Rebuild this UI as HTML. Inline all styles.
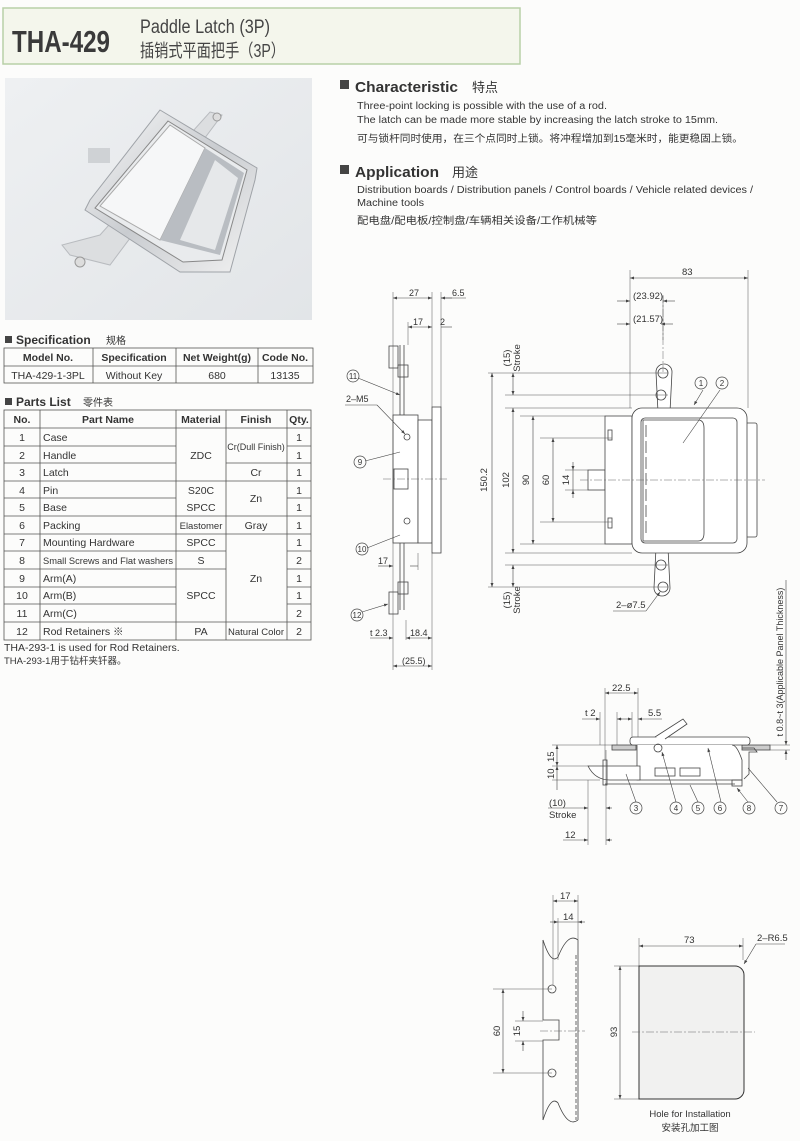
<!DOCTYPE html>
<html><head><meta charset="utf-8"><style>
html,body{margin:0;padding:0;background:#fff}
svg{display:block}
text{font-family:"Liberation Sans","Noto Sans CJK SC",sans-serif;fill:#333}
.d{stroke:#444;stroke-width:0.8;fill:none}
.t{stroke:#555;stroke-width:0.5;fill:none}
.c{stroke:#666;stroke-width:0.5;fill:none;stroke-dasharray:8 2 2 2}
.s{font-size:10px}
</style></head><body>
<svg width="800" height="1141" viewBox="0 0 800 1141" xmlns="http://www.w3.org/2000/svg">
<defs>
<marker id="a" viewBox="0 0 8 6" refX="8" refY="3" markerWidth="7" markerHeight="5" orient="auto-start-reverse"><path d="M0,0L8,3L0,6z" fill="#444"/></marker>
<linearGradient id="bg" x1="0" y1="0" x2="1" y2="1"><stop offset="0" stop-color="#eef0f2"/><stop offset="1" stop-color="#e2e5e8"/></linearGradient>
<linearGradient id="met" x1="0" y1="0" x2="1" y2="1"><stop offset="0" stop-color="#fafafa"/><stop offset="0.5" stop-color="#c9ccd0"/><stop offset="1" stop-color="#f2f2f2"/></linearGradient>
</defs>
<rect width="800" height="1141" fill="#fcfcfb"/>
<!-- header -->
<rect x="3" y="8" width="517" height="56" fill="#f4f6ec" stroke="#b8d0a8" stroke-width="1.5"/>
<text x="12" y="52" textLength="98" lengthAdjust="spacingAndGlyphs" style="font-size:31px;font-weight:bold;fill:#3a3a3a">THA-429</text>
<text x="140" y="33" textLength="130" lengthAdjust="spacingAndGlyphs" style="font-size:19px;fill:#444">Paddle Latch (3P)</text>
<text x="140" y="57" textLength="145" lengthAdjust="spacingAndGlyphs" style="font-size:18px;fill:#444">插销式平面把手（3P）</text>

<!-- photo -->
<rect x="5" y="78" width="307" height="242" fill="url(#bg)"/>
<polygon points="210,112 222,115 110,265 70,255 62,245 100,235" fill="#dcdee0" stroke="#b8bbbf"/>
<polygon points="88,148 110,148 110,163 88,163" fill="#cfd2d5"/>
<polygon points="160,110 257,168 255,180 230,272 180,272 85,210 90,200" fill="url(#met)" stroke="#9fa3a8"/>
<polygon points="168,121 247,170 222,260 183,262 95,208" fill="#e9ebed" stroke="#888"/>
<polygon points="170,125 205,148 160,240 100,206" fill="#f6f7f8" stroke="#aaa"/>
<polygon points="205,148 244,173 220,255 160,240" fill="#b9bdc2"/>
<polygon points="215,160 238,178 215,250 180,240" fill="#e6e8ea"/>
<circle cx="80" cy="262" r="5" fill="#ddd" stroke="#999"/>
<circle cx="217" cy="117" r="4" fill="#ddd" stroke="#999"/>

<!-- right texts -->
<rect x="340" y="80" width="9" height="9" fill="#444"/>
<text x="355" y="92" textLength="103" lengthAdjust="spacingAndGlyphs" style="font-size:15px;font-weight:bold">Characteristic</text>
<text x="472" y="92" style="font-size:13px">特点</text>
<text x="357" y="109" class="s" textLength="250" lengthAdjust="spacingAndGlyphs">Three-point locking is possible with the use of a rod.</text>
<text x="357" y="123" class="s" textLength="361" lengthAdjust="spacingAndGlyphs">The latch can be made more stable by increasing the latch stroke to 15mm.</text>
<text x="357" y="142" class="s" textLength="386" lengthAdjust="spacingAndGlyphs">可与锁杆同时使用，在三个点同时上锁。将冲程增加到15毫米时，能更稳固上锁。</text>
<rect x="340" y="165" width="9" height="9" fill="#444"/>
<text x="355" y="177" textLength="84" lengthAdjust="spacingAndGlyphs" style="font-size:15px;font-weight:bold">Application</text>
<text x="452" y="177" style="font-size:13px">用途</text>
<text x="357" y="193" class="s" textLength="396" lengthAdjust="spacingAndGlyphs">Distribution boards / Distribution panels / Control boards / Vehicle related devices /</text>
<text x="357" y="206" class="s" textLength="67" lengthAdjust="spacingAndGlyphs">Machine tools</text>
<text x="357" y="224" class="s" textLength="240" lengthAdjust="spacingAndGlyphs">配电盘/配电板/控制盘/车辆相关设备/工作机械等</text>

<!-- Spec table -->
<rect x="5" y="336" width="7" height="7" fill="#444"/>
<text x="16" y="344" style="font-size:12px;font-weight:bold">Specification</text>
<text x="106" y="344" style="font-size:10px">规格</text>
<g class="d" style="stroke:#555">
<rect x="4" y="348" width="309" height="35"/>
<line x1="4" y1="366" x2="313" y2="366"/>
<line x1="93" y1="348" x2="93" y2="383"/><line x1="176" y1="348" x2="176" y2="383"/><line x1="258" y1="348" x2="258" y2="383"/>
</g>
<g style="font-size:10.5px" text-anchor="middle">
<text x="48" y="361" font-weight="bold">Model No.</text><text x="134" y="361" font-weight="bold">Specification</text><text x="217" y="361" font-weight="bold">Net Weight(g)</text><text x="285" y="361" font-weight="bold">Code No.</text>
<text x="48" y="379">THA-429-1-3PL</text><text x="134" y="379">Without Key</text><text x="217" y="379">680</text><text x="285" y="379">13135</text>
</g>

<!-- Parts table -->
<rect x="5" y="398" width="7" height="7" fill="#444"/>
<text x="16" y="406" style="font-size:12px;font-weight:bold">Parts List</text>
<text x="83" y="406" style="font-size:10px">零件表</text>
<g class="d" style="stroke:#555">
<rect x="4" y="410" width="307" height="230"/>
<line x1="4" y1="428" x2="311" y2="428"/>
<line x1="40" y1="410" x2="40" y2="640"/><line x1="176" y1="410" x2="176" y2="640"/><line x1="226" y1="410" x2="226" y2="640"/><line x1="287" y1="410" x2="287" y2="640"/>
<line x1="4" y1="446" x2="176" y2="446"/><line x1="4" y1="463" x2="176" y2="463"/><line x1="4" y1="481" x2="311" y2="481"/><line x1="4" y1="498" x2="176" y2="498"/><line x1="4" y1="516" x2="311" y2="516"/><line x1="4" y1="534" x2="311" y2="534"/><line x1="4" y1="551" x2="226" y2="551"/><line x1="4" y1="569" x2="226" y2="569"/><line x1="4" y1="587" x2="176" y2="587"/><line x1="4" y1="604" x2="176" y2="604"/><line x1="4" y1="622" x2="311" y2="622"/>
<line x1="287" y1="446" x2="311" y2="446"/><line x1="226" y1="463" x2="311" y2="463"/><line x1="287" y1="498" x2="311" y2="498"/><line x1="287" y1="551" x2="311" y2="551"/><line x1="287" y1="569" x2="311" y2="569"/><line x1="287" y1="587" x2="311" y2="587"/><line x1="287" y1="604" x2="311" y2="604"/>
</g>
<g style="font-size:10.5px">
<g text-anchor="middle" font-weight="bold"><text x="22" y="423">No.</text><text x="108" y="423">Part Name</text><text x="201" y="423">Material</text><text x="256" y="423">Finish</text><text x="299" y="423">Qty.</text></g>
<g text-anchor="middle"><text x="22" y="441">1</text><text x="22" y="459">2</text><text x="22" y="476">3</text><text x="22" y="494">4</text><text x="22" y="511">5</text><text x="22" y="529">6</text><text x="22" y="546">7</text><text x="22" y="564">8</text><text x="22" y="582">9</text><text x="22" y="599">10</text><text x="22" y="617">11</text><text x="22" y="635">12</text>
<text x="299" y="441">1</text><text x="299" y="459">1</text><text x="299" y="476">1</text><text x="299" y="494">1</text><text x="299" y="511">1</text><text x="299" y="529">1</text><text x="299" y="546">1</text><text x="299" y="564">2</text><text x="299" y="582">1</text><text x="299" y="599">1</text><text x="299" y="617">2</text><text x="299" y="635">2</text>
<text x="201" y="459">ZDC</text><text x="201" y="494">S20C</text><text x="201" y="511">SPCC</text><text x="201" y="529" style="font-size:9.5px">Elastomer</text><text x="201" y="546">SPCC</text><text x="201" y="564">S</text><text x="201" y="599">SPCC</text><text x="201" y="635">PA</text>
<text x="256" y="450" style="font-size:9px">Cr(Dull Finish)</text><text x="256" y="476">Cr</text><text x="256" y="502">Zn</text><text x="256" y="529">Gray</text><text x="256" y="582">Zn</text><text x="256" y="635" style="font-size:9.5px">Natural Color</text></g>
<text x="43" y="441">Case</text><text x="43" y="459">Handle</text><text x="43" y="476">Latch</text><text x="43" y="494">Pin</text><text x="43" y="511">Base</text><text x="43" y="529">Packing</text><text x="43" y="546">Mounting Hardware</text><text x="43" y="564" style="font-size:9px" textLength="130" lengthAdjust="spacingAndGlyphs">Small Screws and Flat washers</text><text x="43" y="582">Arm(A)</text><text x="43" y="599">Arm(B)</text><text x="43" y="617">Arm(C)</text><text x="43" y="635">Rod Retainers ※</text>
</g>
<text x="4" y="651" style="font-size:10.5px">THA-293-1 is used for Rod Retainers.</text>
<text x="4" y="664" style="font-size:9.5px">THA-293-1用于钻杆夹钎器。</text>

<!-- SIDE VIEW -->
<g class="d">
<rect x="393" y="415" width="25" height="128" fill="#fff"/>
<rect x="418" y="420" width="14" height="123" fill="#fff"/>
<rect x="432" y="407" width="9" height="146" fill="#fff"/>
<line x1="400" y1="345" x2="400" y2="415"/><line x1="404" y1="345" x2="404" y2="415"/>
<line x1="400" y1="543" x2="400" y2="610"/><line x1="404" y1="543" x2="404" y2="610"/>
<rect x="389" y="346" width="9" height="22"/><rect x="398" y="365" width="10" height="12"/>
<rect x="389" y="592" width="9" height="22"/><rect x="398" y="582" width="10" height="12"/>
<rect x="394" y="469" width="14" height="20"/>
<circle cx="407" cy="437" r="3"/><circle cx="407" cy="521" r="3"/>
</g>
<line class="c" x1="383" y1="479" x2="448" y2="479"/>
<g class="t">
<line x1="393" y1="292" x2="393" y2="670"/><line x1="432" y1="292" x2="432" y2="407"/><line x1="441" y1="292" x2="441" y2="407"/>
<line x1="408" y1="322" x2="408" y2="345"/>
<line x1="432" y1="553" x2="432" y2="670"/><line x1="418" y1="553" x2="418" y2="570"/><line x1="406" y1="620" x2="406" y2="640"/>
</g>
<g class="d" style="stroke-width:0.6">
<line x1="393" y1="298" x2="432" y2="298" marker-start="url(#a)" marker-end="url(#a)"/>
<line x1="452" y1="298" x2="441" y2="298" marker-end="url(#a)"/><line x1="441" y1="298" x2="466" y2="298"/>
<line x1="408" y1="327" x2="432" y2="327" marker-start="url(#a)" marker-end="url(#a)"/>
<line x1="441" y1="327" x2="452" y2="327"/>
<line x1="378" y1="566" x2="393" y2="566" marker-end="url(#a)"/><line x1="418" y1="566" x2="410" y2="566"/>
<line x1="370" y1="638" x2="393" y2="638" marker-end="url(#a)"/><line x1="406" y1="638" x2="432" y2="638" marker-start="url(#a)" marker-end="url(#a)"/>
<line x1="393" y1="666" x2="432" y2="666" marker-start="url(#a)" marker-end="url(#a)"/>
<line x1="358" y1="378" x2="400" y2="395" marker-end="url(#a)"/>
<line x1="345" y1="405" x2="377" y2="405"/><line x1="377" y1="405" x2="405" y2="434" marker-end="url(#a)"/>
<line x1="365" y1="461" x2="400" y2="452"/><line x1="367" y1="548" x2="400" y2="535"/><line x1="362" y1="612" x2="388" y2="604" marker-end="url(#a)"/>
</g>
<g style="font-size:9px">
<text x="409" y="296">27</text><text x="452" y="296">6.5</text><text x="413" y="325">17</text><text x="440" y="325">2</text>
<text x="346" y="402">2–M5</text><text x="378" y="564">17</text><text x="370" y="636">t 2.3</text><text x="410" y="636">18.4</text><text x="402" y="664">(25.5)</text>
</g>
<g class="d" style="stroke-width:0.7"><circle cx="353" cy="376" r="6"/><circle cx="360" cy="462" r="6"/><circle cx="362" cy="549" r="6"/><circle cx="357" cy="615" r="6"/></g>
<g style="font-size:8px" text-anchor="middle"><text x="353" y="379">11</text><text x="360" y="465">9</text><text x="362" y="552">10</text><text x="357" y="618">12</text></g>

<!-- FRONT VIEW -->
<g class="d">
<path d="M656,372 a8,8 0 0 1 16,0 l-2,40 h-12 z" fill="#fff"/>
<path d="M654,588 a8,8 0 0 0 16,0 l-2,-40 h-12 z" fill="#fff"/>
<circle cx="663" cy="373" r="5"/><circle cx="661" cy="395" r="5"/><circle cx="661" cy="565" r="5"/><circle cx="663" cy="587" r="5"/>
<rect x="588" y="470" width="17" height="20" fill="#fff"/>
<rect x="605" y="416" width="27" height="128" fill="#fff"/>
<rect x="608" y="430" width="4" height="10"/><rect x="608" y="518" width="4" height="10"/>
<rect x="745" y="423" width="12" height="114" rx="2" fill="#fff"/>
<rect x="632" y="408" width="115" height="145" rx="10" fill="#fff"/>
<rect x="641" y="418" width="96" height="125" rx="4"/>
<path d="M643,420 h55 q6,0 6,8 v105 q0,8 -6,8 h-55 z" fill="#fff"/>
<line x1="646" y1="425" x2="646" y2="536" style="stroke-dasharray:12 4"/>
</g>
<line class="c" x1="580" y1="480" x2="765" y2="480"/>
<line class="c" x1="663" y1="295" x2="663" y2="372"/>
<g class="t">
<line x1="630" y1="270" x2="630" y2="408"/><line x1="748" y1="270" x2="748" y2="408"/>
<line x1="663" y1="296" x2="663" y2="340"/>
<line x1="488" y1="373" x2="668" y2="373"/><line x1="505" y1="395" x2="668" y2="395"/><line x1="505" y1="408" x2="632" y2="408"/>
<line x1="520" y1="416" x2="605" y2="416"/><line x1="540" y1="438" x2="612" y2="438"/><line x1="565" y1="470" x2="588" y2="470"/><line x1="565" y1="490" x2="588" y2="490"/>
<line x1="540" y1="522" x2="612" y2="522"/><line x1="520" y1="544" x2="605" y2="544"/><line x1="505" y1="553" x2="632" y2="553"/>
<line x1="505" y1="565" x2="668" y2="565"/><line x1="488" y1="587" x2="668" y2="587"/>
</g>
<g class="d" style="stroke-width:0.6">
<line x1="630" y1="278" x2="748" y2="278" marker-start="url(#a)" marker-end="url(#a)"/>
<line x1="617" y1="301" x2="630" y2="301" marker-end="url(#a)"/><line x1="675" y1="301" x2="663" y2="301" marker-end="url(#a)"/>
<line x1="617" y1="324" x2="630" y2="324" marker-end="url(#a)"/><line x1="673" y1="324" x2="661" y2="324" marker-end="url(#a)"/>
<line x1="492" y1="373" x2="492" y2="587" marker-start="url(#a)" marker-end="url(#a)"/>
<line x1="513" y1="373" x2="513" y2="395" marker-start="url(#a)" marker-end="url(#a)"/>
<line x1="513" y1="408" x2="513" y2="553" marker-start="url(#a)" marker-end="url(#a)"/>
<line x1="513" y1="565" x2="513" y2="587" marker-start="url(#a)" marker-end="url(#a)"/>
<line x1="533" y1="416" x2="533" y2="544" marker-start="url(#a)" marker-end="url(#a)"/>
<line x1="553" y1="438" x2="553" y2="522" marker-start="url(#a)" marker-end="url(#a)"/>
<line x1="573" y1="462" x2="573" y2="470" marker-end="url(#a)"/><line x1="573" y1="498" x2="573" y2="490" marker-end="url(#a)"/><line x1="573" y1="470" x2="573" y2="490"/>
<line x1="613" y1="611" x2="646" y2="611"/><line x1="646" y1="611" x2="660" y2="592" marker-end="url(#a)"/>
<line x1="703" y1="390" x2="694" y2="405" marker-end="url(#a)"/><line x1="720" y1="390" x2="683" y2="443"/>
</g>
<g style="font-size:9.5px">
<text x="682" y="275">83</text><text x="633" y="299">(23.92)</text><text x="633" y="322">(21.57)</text>
<text x="616" y="608">2–ø7.5</text>
</g>
<g style="font-size:9.5px" text-anchor="middle">
<text transform="translate(487,480) rotate(-90)">150.2</text>
<text transform="translate(509,480) rotate(-90)">102</text>
<text transform="translate(529,480) rotate(-90)">90</text>
<text transform="translate(549,480) rotate(-90)">60</text>
<text transform="translate(569,480) rotate(-90)">14</text>
<text transform="translate(510,358) rotate(-90)">(15)</text><text transform="translate(520,358) rotate(-90)">Stroke</text>
<text transform="translate(510,600) rotate(-90)">(15)</text><text transform="translate(520,600) rotate(-90)">Stroke</text>
<text transform="translate(783,662) rotate(-90)" style="font-size:9px">t 0.8~t 3(Applicable Panel Thickness)</text>
</g>
<g class="d" style="stroke-width:0.7"><circle cx="701" cy="383" r="6"/><circle cx="722" cy="383" r="6"/></g>
<g style="font-size:8px" text-anchor="middle"><text x="701" y="386">1</text><text x="722" y="386">2</text></g>

<!-- BOTTOM SIDE VIEW -->
<g class="d">
<rect x="612" y="745" width="24" height="5" fill="#ccc"/><rect x="742" y="745" width="28" height="5" fill="#ccc"/>
<rect x="630" y="737" width="120" height="8" rx="3" fill="#fff"/>
<path d="M655,737 l28,-18 l4,5 l-22,15" fill="#fff"/>
<path d="M637,745 v35 h105 v-20 q-5,-15 -10,-15" fill="#fff"/>
<path d="M588,766 h52 v14 h-30 q-15,0 -22,-14z" fill="#fff"/>
<rect x="603" y="760" width="4" height="25"/>
<line x1="605" y1="784" x2="735" y2="784"/>
<rect x="655" y="768" width="20" height="8"/><rect x="680" y="768" width="20" height="8"/>
<circle cx="658" cy="748" r="4"/>
<path d="M742,748 h12 l3,4 h-8 v22 l-5,5"/>
<rect x="732" y="780" width="10" height="6"/>
</g>
<line x1="606" y1="750" x2="606" y2="795" class="t"/>
<g class="t">
<line x1="605" y1="688" x2="605" y2="760"/><line x1="638" y1="688" x2="638" y2="737"/>
<line x1="600" y1="712" x2="600" y2="745"/><line x1="617" y1="712" x2="617" y2="745"/><line x1="632" y1="712" x2="632" y2="737"/>
<line x1="552" y1="745" x2="612" y2="745"/><line x1="552" y1="766" x2="590" y2="766"/><line x1="552" y1="780" x2="600" y2="780"/>
<line x1="588" y1="780" x2="588" y2="845"/><line x1="606" y1="795" x2="606" y2="845"/>
<line x1="770" y1="745" x2="790" y2="745"/><line x1="770" y1="750" x2="790" y2="750"/>
</g>
<g class="d" style="stroke-width:0.6">
<line x1="605" y1="693" x2="638" y2="693" marker-start="url(#a)" marker-end="url(#a)"/>
<line x1="582" y1="719" x2="600" y2="719" marker-end="url(#a)"/><line x1="622" y1="719" x2="617" y2="719" marker-end="url(#a)"/>
<line x1="620" y1="719" x2="632" y2="719" marker-end="url(#a)"/><line x1="662" y1="719" x2="638" y2="719" marker-end="url(#a)"/>
<line x1="557" y1="745" x2="557" y2="766" marker-start="url(#a)" marker-end="url(#a)"/>
<line x1="557" y1="766" x2="557" y2="780" marker-start="url(#a)"/>
<line x1="557" y1="780" x2="557" y2="790"/>
<line x1="548" y1="808" x2="588" y2="808" marker-end="url(#a)"/><line x1="612" y1="808" x2="606" y2="808" marker-end="url(#a)"/>
<line x1="563" y1="840" x2="588" y2="840" marker-end="url(#a)"/><line x1="612" y1="840" x2="606" y2="840" marker-end="url(#a)"/>
<line x1="786" y1="580" x2="786" y2="745" marker-end="url(#a)"/><line x1="786" y1="760" x2="786" y2="750" marker-end="url(#a)"/>
<line x1="636" y1="802" x2="626" y2="774"/><line x1="676" y1="802" x2="662" y2="752" marker-end="url(#a)"/><line x1="698" y1="802" x2="690" y2="785"/>
<line x1="721" y1="802" x2="708" y2="748" marker-end="url(#a)"/><line x1="748" y1="802" x2="737" y2="788" marker-end="url(#a)"/><line x1="777" y1="802" x2="748" y2="768"/>
</g>
<g style="font-size:9.5px">
<text x="612" y="691">22.5</text><text x="585" y="716">t 2</text><text x="648" y="716">5.5</text>
<text x="549" y="806">(10)</text><text x="549" y="818">Stroke</text><text x="565" y="838">12</text>
<text transform="translate(554,762) rotate(-90)">15</text><text transform="translate(554,779) rotate(-90)">10</text>
</g>
<g class="d" style="stroke-width:0.7"><circle cx="636" cy="808" r="6"/><circle cx="676" cy="808" r="6"/><circle cx="698" cy="808" r="6"/><circle cx="720" cy="808" r="6"/><circle cx="749" cy="808" r="6"/><circle cx="781" cy="808" r="6"/></g>
<g style="font-size:8px" text-anchor="middle"><text x="636" y="811">3</text><text x="676" y="811">4</text><text x="698" y="811">5</text><text x="720" y="811">6</text><text x="749" y="811">8</text><text x="781" y="811">7</text></g>

<!-- INSTALLATION -->
<g class="d">
<path d="M543,940 q8,25 15,17 q10,-25 20,-17"/>
<path d="M543,1120 q8,-25 15,-17 q10,25 20,17"/>
<path d="M543,940 V1020 H559 V1040 H543 V1120 M578,940 V1120"/>
<line x1="576" y1="955" x2="576" y2="1120" style="stroke-dasharray:4 2"/>
<circle cx="552" cy="989" r="4"/><circle cx="552" cy="1073" r="4"/>
</g>
<line class="c" x1="540" y1="1031" x2="585" y2="1031"/>
<g class="t">
<line x1="553" y1="895" x2="553" y2="985"/><line x1="578" y1="895" x2="578" y2="940"/><line x1="558" y1="918" x2="558" y2="960"/>
<line x1="493" y1="989" x2="552" y2="989"/><line x1="493" y1="1073" x2="552" y2="1073"/>
<line x1="515" y1="1021" x2="543" y2="1021"/><line x1="515" y1="1041" x2="543" y2="1041"/>
<line x1="639" y1="938" x2="639" y2="966"/><line x1="743" y1="938" x2="743" y2="960"/>
<line x1="614" y1="966" x2="639" y2="966"/><line x1="614" y1="1099" x2="639" y2="1099"/>
</g>
<g class="d" style="stroke-width:0.6">
<line x1="553" y1="901" x2="578" y2="901" marker-start="url(#a)" marker-end="url(#a)"/>
<line x1="550" y1="922" x2="558" y2="922" marker-end="url(#a)"/><line x1="585" y1="922" x2="578" y2="922" marker-end="url(#a)"/><line x1="558" y1="922" x2="578" y2="922"/>
<line x1="503" y1="989" x2="503" y2="1073" marker-start="url(#a)" marker-end="url(#a)"/>
<line x1="523" y1="1011" x2="523" y2="1021" marker-end="url(#a)"/><line x1="523" y1="1051" x2="523" y2="1041" marker-end="url(#a)"/>
<line x1="639" y1="946" x2="743" y2="946" marker-start="url(#a)" marker-end="url(#a)"/>
<line x1="620" y1="966" x2="620" y2="1099" marker-start="url(#a)" marker-end="url(#a)"/>
<line x1="785" y1="944" x2="756" y2="944"/><line x1="756" y1="944" x2="744" y2="964" marker-end="url(#a)"/>
</g>
<path d="M639,966 H735 A9,9 0 0 1 744,975 V1090 A9,9 0 0 1 735,1099 H639 Z" fill="#f1f1f0" stroke="#333" stroke-width="1"/>
<line class="c" x1="632" y1="1032" x2="755" y2="1032"/>
<g style="font-size:9.5px">
<text x="560" y="899">17</text><text x="563" y="920">14</text>
<text x="684" y="943">73</text><text x="757" y="941">2–R6.5</text>
<text transform="translate(500,1031) rotate(-90)" text-anchor="middle">60</text>
<text transform="translate(520,1031) rotate(-90)" text-anchor="middle">15</text>
<text transform="translate(617,1032) rotate(-90)" text-anchor="middle">93</text>
<text x="690" y="1117" text-anchor="middle">Hole for Installation</text>
<text x="690" y="1131" text-anchor="middle">安装孔加工图</text>
</g>
</svg>
</body></html>
